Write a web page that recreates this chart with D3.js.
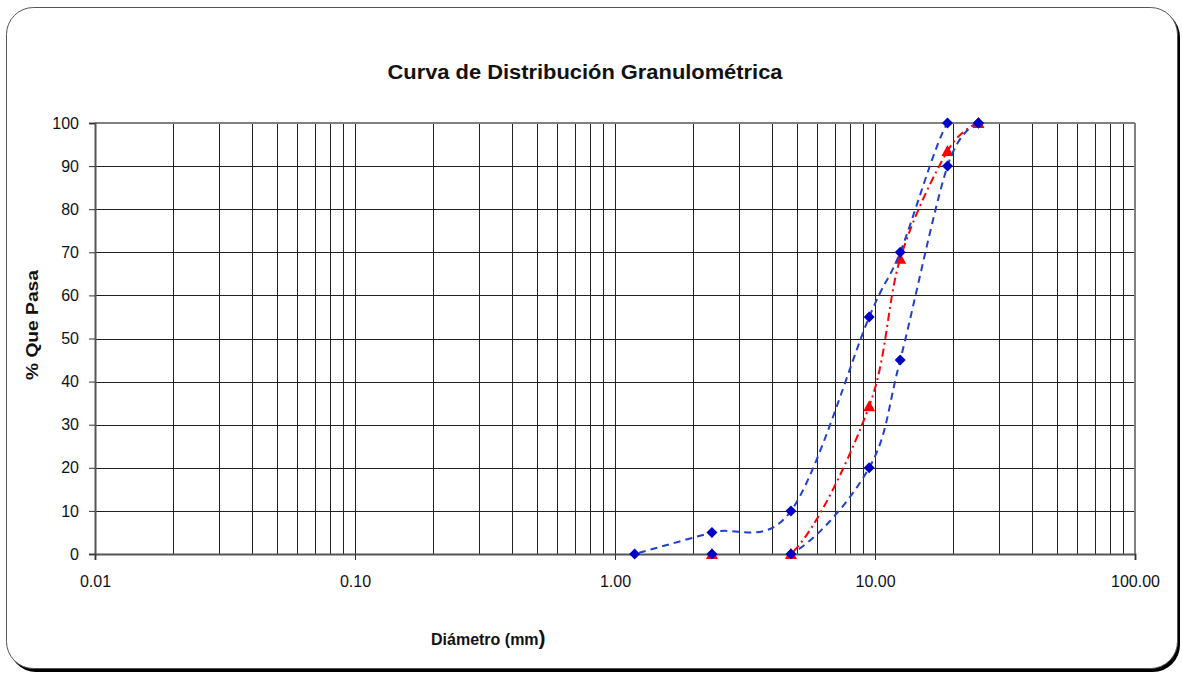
<!DOCTYPE html>
<html>
<head>
<meta charset="utf-8">
<script src="https://cdn.jsdelivr.net/npm/d3@7"></script>
<style>
body { margin: 0; background: #fff; }
text { font-family: "Liberation Sans", Arial, sans-serif; }
</style>
</head>
<body>
<div id="chart"></div>
<script>
// sieve openings (mm) and % passing
var sieve = [25, 19, 12.5, 9.5, 4.75, 2.36, 1.19];
var upperLimit = [100, 100, 70, 55, 10, 5, 0];
var lowerLimit = [100, 90, 45, 20, 0, 0, null];
var sample = [100, 93.5, 68.5, 34.3, 0, 0, null];

var xTickValues = [0.01, 0.1, 1, 10, 100];
var yTickValues = [0, 10, 20, 30, 40, 50, 60, 70, 80, 90, 100];

var width = 1182, height = 673;
var plotLeft = 95, plotRight = 1135, plotTop = 123, plotBottom = 554;

var svg = d3.select("#chart").append("svg")
    .attr("width", width).attr("height", height);

// frame with shadow
svg.append("rect").attr("x", 9).attr("y", 10).attr("width", 1171).attr("height", 662)
    .attr("rx", 27).attr("fill", "#000");
svg.append("rect").attr("x", 6.5).attr("y", 7.5).attr("width", 1171).attr("height", 661)
    .attr("rx", 27).attr("fill", "#fff").attr("stroke", "#555").attr("stroke-width", 1);

svg.append("clipPath").attr("id", "plotclip").append("rect")
    .attr("x", plotLeft).attr("y", plotTop - 1)
    .attr("width", plotRight - plotLeft).attr("height", plotBottom - plotTop + 2);

var x = d3.scaleLog().domain([0.01, 100]).range([plotLeft, plotRight]);
var y = d3.scaleLinear().domain([0, 100]).range([plotBottom, plotTop]);

// vertical grid: 1..9 in each decade
var vGrid = [];
for (var d = -2; d < 2; d++) {
  for (var m = 2; m <= 9; m++) vGrid.push(m * Math.pow(10, d));
}
svg.append("g").selectAll("line").data(vGrid.concat([0.1, 1, 10])).join("line")
    .attr("x1", function(v) { return Math.round(x(v)) + 0.5; })
    .attr("x2", function(v) { return Math.round(x(v)) + 0.5; })
    .attr("y1", plotTop).attr("y2", plotBottom)
    .attr("stroke", "#222").attr("stroke-width", 1);

svg.append("g").selectAll("line").data(yTickValues.slice(1, -1)).join("line")
    .attr("x1", plotLeft).attr("x2", plotRight)
    .attr("y1", function(v) { return Math.round(y(v)) + 0.5; })
    .attr("y2", function(v) { return Math.round(y(v)) + 0.5; })
    .attr("stroke", "#222").attr("stroke-width", 1);

// plot border
svg.append("line").attr("x1", plotLeft).attr("x2", plotRight).attr("y1", plotTop).attr("y2", plotTop)
    .attr("stroke", "#808080").attr("stroke-width", 2);
svg.append("line").attr("x1", plotRight).attr("x2", plotRight).attr("y1", plotTop).attr("y2", plotBottom)
    .attr("stroke", "#808080").attr("stroke-width", 2);

// axes
var yAxis = d3.axisLeft(y).tickValues(yTickValues).tickSize(6).tickPadding(10)
    .tickFormat(d3.format("d"));
var gy = svg.append("g").attr("transform", "translate(" + plotLeft + ",0)").call(yAxis);
var xAxis = d3.axisBottom(x).tickValues(xTickValues).tickSize(6).tickPadding(16)
    .tickFormat(d3.format(".2f"));
var gx = svg.append("g").attr("transform", "translate(0," + plotBottom + ")").call(xAxis);
[gx, gy].forEach(function(g) {
  g.select(".domain").attr("stroke", "#555").attr("stroke-width", 2);
  g.selectAll(".tick line").attr("stroke", "#333");
  g.selectAll("text").attr("font-size", 16).attr("fill", "#111")
      .style("font-family", "'Liberation Sans', Arial, sans-serif");
});

// curves
function series(vals) {
  var pts = [];
  for (var k = 0; k < sieve.length; k++) {
    if (vals[k] !== null) pts.push([sieve[k], vals[k]]);
  }
  return pts;
}
var line = d3.line()
    .x(function(p) { return x(p[0]); })
    .y(function(p) { return y(p[1]); })
    .curve(d3.curveCardinal.tension(0));

var redPts = series(sample);
svg.append("path").attr("d", line(redPts)).attr("fill", "none")
    .attr("clip-path", "url(#plotclip)")
    .attr("stroke", "#ff0000").attr("stroke-width", 2)
    .attr("stroke-dasharray", "8,4,2,4");
svg.append("g").selectAll("path").data(redPts).join("path")
    .attr("d", "M0,-6L6,5L-6,5Z")
    .attr("transform", function(p) { return "translate(" + x(p[0]) + "," + y(p[1]) + ")"; })
    .attr("fill", "#ff0000");

[upperLimit, lowerLimit].forEach(function(vals) {
  var pts = series(vals);
  svg.append("path").attr("d", line(pts)).attr("fill", "none")
      .attr("clip-path", "url(#plotclip)")
      .attr("stroke", "#1f3fd0").attr("stroke-width", 2)
      .attr("stroke-dasharray", "7,5");
  svg.append("g").selectAll("path").data(pts).join("path")
      .attr("d", "M0,-5.5L5.5,0L0,5.5L-5.5,0Z")
      .attr("transform", function(p) { return "translate(" + x(p[0]) + "," + y(p[1]) + ")"; })
      .attr("fill", "#0000c8");
});

// titles
svg.append("text").attr("x", 585).attr("y", 79).attr("text-anchor", "middle")
    .attr("font-size", 20).attr("font-weight", "bold").attr("fill", "#111")
    .attr("textLength", 395).attr("lengthAdjust", "spacingAndGlyphs")
    .text("Curva de Distribución Granulométrica");

svg.append("text").attr("transform", "translate(38,325) rotate(-90)")
    .attr("text-anchor", "middle").attr("font-size", 16).attr("font-weight", "bold")
    .attr("fill", "#111").attr("textLength", 110).attr("lengthAdjust", "spacingAndGlyphs")
    .text("% Que Pasa");

var xt = svg.append("text").attr("x", 431).attr("y", 645)
    .attr("font-size", 16).attr("font-weight", "bold").attr("fill", "#111");
xt.append("tspan").text("Diámetro (mm");
xt.append("tspan").attr("font-size", 21).text(")");
</script>
</body>
</html>
